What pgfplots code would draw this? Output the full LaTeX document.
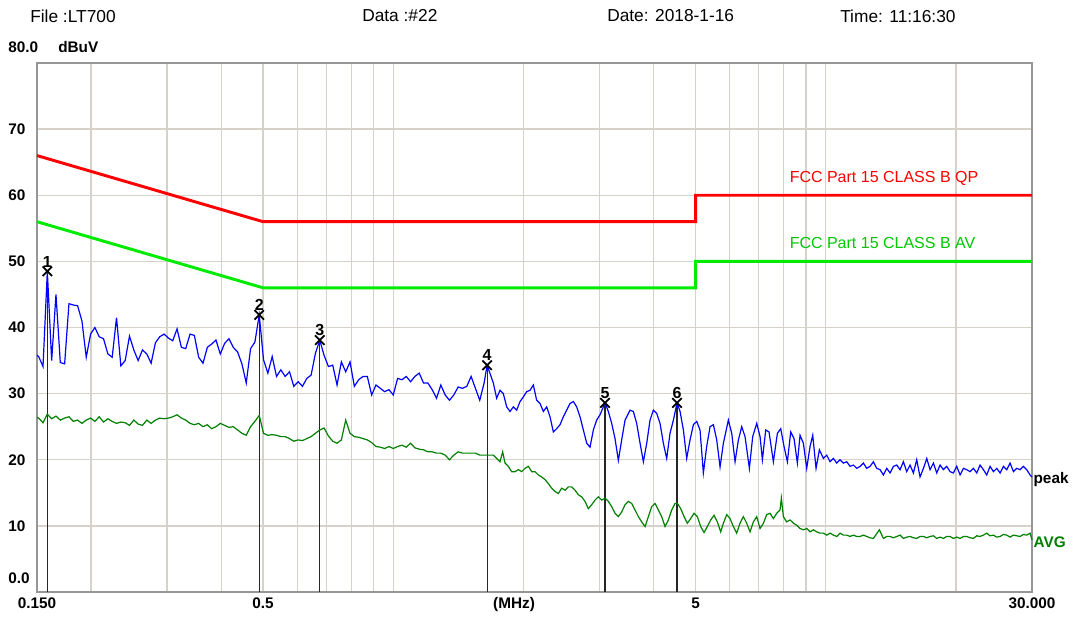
\documentclass[border=0pt]{standalone}
\usepackage{pgfplots}
\usepackage{pgfplotstable}
\pgfplotsset{compat=1.18}
\usepackage{fontspec}
\setmainfont{Liberation Sans}
\definecolor{gridc}{RGB}{214,210,202}
\definecolor{framec}{RGB}{150,150,150}
\definecolor{qpred}{RGB}{255,0,0}
\definecolor{avgreen}{RGB}{0,235,0}
\definecolor{trblue}{RGB}{0,0,255}
\definecolor{trgreen}{RGB}{0,128,0}

% x = log10(frequency / MHz)
\pgfplotstableread{
u dB
-0.8239 35.8
-0.82 35.6
-0.81 34.1
-0.80 48.5
-0.79 35.0
-0.78 45.0
-0.77 34.7
-0.76 34.5
-0.75 43.6
-0.74 43.4
-0.73 43.3
-0.72 41.0
-0.71 35.5
-0.70 39.0
-0.69 40.0
-0.68 38.6
-0.67 38.3
-0.66 36.0
-0.65 35.5
-0.64 41.5
-0.63 34.2
-0.62 35.0
-0.61 38.7
-0.60 36.6
-0.59 35.0
-0.58 36.6
-0.57 36.0
-0.56 34.6
-0.55 37.7
-0.54 38.6
-0.53 39.0
-0.52 38.4
-0.51 38.0
-0.50 39.8
-0.49 37.0
-0.48 36.8
-0.47 39.0
-0.46 38.8
-0.45 35.5
-0.44 34.6
-0.43 37.0
-0.42 37.5
-0.41 38.1
-0.40 36.0
-0.39 37.6
-0.38 38.3
-0.37 37.0
-0.36 36.3
-0.35 34.5
-0.34 31.6
-0.33 36.8
-0.32 37.8
-0.31 41.9
-0.30 35.1
-0.29 33.1
-0.28 35.6
-0.27 32.6
-0.26 33.6
-0.25 32.6
-0.24 33.3
-0.23 31.1
-0.22 31.8
-0.21 31.1
-0.20 32.3
-0.19 32.8
-0.18 36.1
-0.17 38.1
-0.16 35.8
-0.15 34.1
-0.14 34.3
-0.13 31.3
-0.12 34.8
-0.11 33.3
-0.10 34.8
-0.09 31.1
-0.08 32.1
-0.07 32.6
-0.06 32.6
-0.05 29.8
-0.04 31.3
-0.03 30.8
-0.02 30.3
-0.01 30.6
0.00 29.8
0.01 32.3
0.02 32.1
0.03 32.6
0.04 31.8
0.05 32.6
0.06 33.1
0.07 31.6
0.08 31.6
0.09 30.6
0.10 29.3
0.11 31.3
0.12 29.8
0.13 29.0
0.14 29.8
0.15 31.0
0.16 30.8
0.17 31.1
0.18 32.6
0.19 30.8
0.20 29.0
0.21 31.6
0.217 34.3
0.2314 31.6
0.2391 29.3
0.2468 30.5
0.2545 30.0
0.2623 28.0
0.2700 27.3
0.2777 28.0
0.2854 27.5
0.2931 28.8
0.3008 29.5
0.3085 30.3
0.3162 30.5
0.3239 31.3
0.3316 29.0
0.3394 28.5
0.3471 27.3
0.3548 28.0
0.3625 26.5
0.3702 24.2
0.3779 24.7
0.3856 25.3
0.3933 26.5
0.4010 27.5
0.4087 28.5
0.4165 28.8
0.4242 28.0
0.4319 26.5
0.4396 24.5
0.4473 22.5
0.4550 21.9
0.4627 24.5
0.4704 26.0
0.4781 26.8
0.4897 28.6
0.4974 27.3
0.5051 25.5
0.5128 23.2
0.5205 19.9
0.5282 23.0
0.5360 26.0
0.5475 27.5
0.5552 27.3
0.5629 25.5
0.5707 22.5
0.5784 19.7
0.5861 22.5
0.5938 26.0
0.6015 27.5
0.6092 27.0
0.6169 25.5
0.6246 22.5
0.6323 20.2
0.6400 24.0
0.6478 26.0
0.6562 28.6
0.6632 27.3
0.6709 24.5
0.6786 20.2
0.6863 23.0
0.6940 25.3
0.7017 25.8
0.7094 24.5
0.7171 18.0
0.7248 22.0
0.7326 25.0
0.7403 25.3
0.7480 23.0
0.7557 18.9
0.7634 22.5
0.7749 26.0
0.7827 24.0
0.7904 19.7
0.7981 23.0
0.8058 25.0
0.8135 23.5
0.8235 18.7
0.8312 23.5
0.8405 25.5
0.8482 23.5
0.8536 20.0
0.8613 24.5
0.8690 24.2
0.8790 19.7
0.8883 24.0
0.8960 24.7
0.9037 22.0
0.9114 19.7
0.9191 24.2
0.9268 23.2
0.9345 19.5
0.9407 23.7
0.9484 22.5
0.9561 18.7
0.9638 22.0
0.9700 23.7
0.9777 18.7
0.9854 21.5
0.9947 20.2
1.0024 20.7
1.0101 19.7
1.0178 20.2
1.0255 19.5
1.0332 20.0
1.0409 19.5
1.0486 19.7
1.0564 19.0
1.0641 19.2
1.0718 18.7
1.0795 19.0
1.0872 19.5
1.0949 18.7
1.1026 19.0
1.1103 19.7
1.1180 18.7
1.1257 18.5
1.1334 17.7
1.1412 18.7
1.1489 18.0
1.1566 19.0
1.1643 19.2
1.1720 18.5
1.1797 19.7
1.1874 18.2
1.1951 19.2
1.2028 18.0
1.2105 20.0
1.2182 17.4
1.2260 18.7
1.2337 20.2
1.2414 18.5
1.2491 19.5
1.2568 18.0
1.2645 19.2
1.2722 18.5
1.2799 19.0
1.2876 18.2
1.2953 18.0
1.3030 19.0
1.3108 17.7
1.3185 18.7
1.3262 18.5
1.3339 18.2
1.3416 18.7
1.3493 18.0
1.3570 19.2
1.3647 18.5
1.3724 17.7
1.3801 19.0
1.3879 18.2
1.3956 18.7
1.4033 18.0
1.4110 19.0
1.4187 18.5
1.4264 19.5
1.4341 18.2
1.4418 18.7
1.4495 18.5
1.4572 19.0
1.4649 18.5
1.4726 17.7
1.4771 17.4
}\peaktab

\pgfplotstableread{
u dB
-0.8239 26.4
-0.82 26.3
-0.81 25.6
-0.80 26.9
-0.79 26.2
-0.78 26.6
-0.77 26.0
-0.76 26.3
-0.75 26.5
-0.74 25.8
-0.73 26.0
-0.72 25.5
-0.71 26.0
-0.70 26.3
-0.69 25.8
-0.68 26.5
-0.67 25.7
-0.66 26.2
-0.65 25.8
-0.64 25.5
-0.63 25.7
-0.62 25.6
-0.61 25.2
-0.60 26.0
-0.59 25.4
-0.58 25.2
-0.57 26.0
-0.56 25.5
-0.55 26.0
-0.54 26.3
-0.53 26.2
-0.52 26.3
-0.51 26.5
-0.50 26.8
-0.49 26.3
-0.48 26.0
-0.47 25.5
-0.46 25.3
-0.45 25.5
-0.44 25.0
-0.43 25.3
-0.42 24.7
-0.41 25.0
-0.40 25.5
-0.39 25.2
-0.38 24.9
-0.37 25.0
-0.36 24.5
-0.35 24.0
-0.34 23.7
-0.33 25.0
-0.32 25.8
-0.31 26.7
-0.30 24.0
-0.29 23.7
-0.28 23.8
-0.27 23.7
-0.26 23.5
-0.25 23.5
-0.24 23.2
-0.23 22.8
-0.22 23.0
-0.21 22.9
-0.20 23.2
-0.19 23.5
-0.18 24.0
-0.17 24.5
-0.16 24.8
-0.15 23.6
-0.14 22.8
-0.13 22.5
-0.12 23.0
-0.11 26.0
-0.10 24.0
-0.09 23.5
-0.08 23.4
-0.07 23.2
-0.06 23.0
-0.05 22.6
-0.04 22.0
-0.03 21.9
-0.02 21.7
-0.01 22.0
0.00 21.7
0.01 22.0
0.02 22.2
0.03 21.9
0.04 22.5
0.05 21.8
0.06 21.6
0.07 21.5
0.08 21.2
0.09 21.2
0.10 21.0
0.11 21.0
0.12 20.7
0.13 20.0
0.14 20.7
0.15 21.2
0.16 21.0
0.17 21.0
0.18 21.0
0.19 21.0
0.20 20.7
0.21 20.7
0.22 20.7
0.2314 20.7
0.2391 20.2
0.2468 19.7
0.2530 21.2
0.2584 19.5
0.2661 19.0
0.2738 18.2
0.2815 18.2
0.2893 18.5
0.2970 18.2
0.3047 18.7
0.3124 19.0
0.3201 18.2
0.3278 18.2
0.3355 17.7
0.3432 17.4
0.3509 17.0
0.3586 16.4
0.3663 15.7
0.3740 15.2
0.3818 14.9
0.3895 15.7
0.3972 15.4
0.4049 15.9
0.4126 15.9
0.4203 15.4
0.4280 14.7
0.4357 14.4
0.4434 13.7
0.4511 12.6
0.4588 13.2
0.4666 13.9
0.4743 14.4
0.4820 13.9
0.4897 14.2
0.4974 13.7
0.5051 12.9
0.5128 11.9
0.5205 11.4
0.5282 12.1
0.5360 13.2
0.5437 13.7
0.5514 13.4
0.5591 12.4
0.5668 11.4
0.5745 10.6
0.5822 9.9
0.5899 11.4
0.5976 12.9
0.6053 13.4
0.6131 12.4
0.6208 11.4
0.6285 9.9
0.6362 10.9
0.6439 12.4
0.6516 13.4
0.6570 13.4
0.6647 12.6
0.6724 11.4
0.6801 10.4
0.6878 11.1
0.6955 11.9
0.7032 11.4
0.7109 9.9
0.7187 9.0
0.7264 9.9
0.7341 10.9
0.7418 11.6
0.7495 10.6
0.7572 9.1
0.7634 10.4
0.7711 11.7
0.7788 11.1
0.7865 9.9
0.7942 8.9
0.8019 10.4
0.8096 11.4
0.8173 10.4
0.8250 9.1
0.8328 10.6
0.8405 11.4
0.8482 9.6
0.8559 10.4
0.8636 11.7
0.8713 11.9
0.8790 11.1
0.8867 11.9
0.8944 12.4
0.8975 14.2
0.9021 11.4
0.9098 10.6
0.9176 10.9
0.9253 10.4
0.9330 10.1
0.9407 9.6
0.9484 9.4
0.9561 9.6
0.9638 9.1
0.9715 9.4
0.9792 9.1
0.9869 8.9
0.9947 8.9
1.0024 8.6
1.0101 8.9
1.0178 8.6
1.0255 8.4
1.0332 8.9
1.0409 8.6
1.0486 8.6
1.0564 8.4
1.0641 8.6
1.0718 8.4
1.0795 8.4
1.0872 8.6
1.0949 8.4
1.1026 8.2
1.1103 8.1
1.1242 9.4
1.1334 8.1
1.1412 8.4
1.1489 8.4
1.1566 8.2
1.1643 8.4
1.1720 8.6
1.1797 8.1
1.1874 8.3
1.1951 8.4
1.2028 8.2
1.2105 8.1
1.2182 8.4
1.2260 8.4
1.2337 8.2
1.2414 8.4
1.2491 8.5
1.2568 8.1
1.2645 8.3
1.2722 8.1
1.2799 8.4
1.2876 8.4
1.2953 8.1
1.3030 8.3
1.3108 8.1
1.3185 8.4
1.3262 8.4
1.3339 8.2
1.3416 8.1
1.3493 8.5
1.3570 8.4
1.3647 8.6
1.3724 8.9
1.3801 8.5
1.3879 8.6
1.3956 8.3
1.4033 8.4
1.4110 8.7
1.4187 8.6
1.4264 8.3
1.4341 8.6
1.4418 8.5
1.4495 8.4
1.4572 8.7
1.4649 8.6
1.4726 8.9
1.4771 7.9
}\avgtab

\pgfplotstableread{
u dB lab
-0.80 48.5 1
-0.31 41.9 2
-0.17 38.1 3
0.217 34.3 4
0.4897 28.6 5
0.6562 28.6 6
}\marktab

\begin{document}
\begin{tikzpicture}
\path[use as bounding box, fill=white] (-27.75pt,-21.75pt) rectangle (780.75pt,444pt);
\begin{axis}[
  at={(0,0)}, anchor=south west,
  scale only axis, width=746.25pt, height=396.75pt,
  xmin=-0.8239, xmax=1.4771, ymin=0, ymax=80,
  clip=false,
  axis line style={draw=framec, line width=1.6pt},
  xtick={-0.8239,-0.3010,0.6990,1.4771},
  xticklabels={0.150,0.5,5,30.000},
  minor xtick={-0.6990,-0.5229,-0.3979,-0.3010,-0.2218,-0.1549,-0.0969,-0.0458,0,0.3010,0.4771,0.6021,0.6990,0.7782,0.8451,0.9031,0.9542,1,1.3010},
  xminorgrids=true, xmajorgrids=false,
  ytick={0,10,20,30,40,50,60,70,80},
  yticklabels={,10,20,30,40,50,60,70,},
  ymajorgrids=true,
  grid style={draw=gridc, line width=1.0pt},
  minor grid style={draw=gridc, line width=1.0pt},
  major tick length=0pt, minor tick length=0pt,
  tick style={draw=none},
  xticklabel style={font=\fontsize{11.5}{13}\selectfont\bfseries, yshift=-1pt},
  yticklabel style={font=\fontsize{11.5}{13}\selectfont\bfseries, anchor=west, inner xsep=0pt, xshift=-21.75pt},
]
% limit lines
\addplot[qpred, line width=2.2pt] coordinates {(-0.8239,66) (-0.3010,56) (0.6990,56) (0.6990,60) (1.4771,60)};
\addplot[avgreen, line width=2.2pt] coordinates {(-0.8239,56) (-0.3010,46) (0.6990,46) (0.6990,50) (1.4771,50)};
% marker stems
\addplot[ycomb, black!85, line width=0.9pt] table[x=u, y=dB] {\marktab};
% traces
\addplot[trgreen, line width=0.9pt] table[x=u, y=dB] {\avgtab};
\addplot[trblue, line width=0.9pt] table[x=u, y=dB] {\peaktab};
% markers
\addplot[only marks, mark=x, mark size=5pt, black, line width=1.3pt,
  nodes near coords, point meta=explicit symbolic,
  every node near coord/.append style={font=\fontsize{12}{14}\selectfont\bfseries, anchor=south, yshift=1.5pt, inner sep=1pt, black}]
  table[x=u, y=dB, meta=lab] {\marktab};
% texts
\node[anchor=west, text=qpred, font=\fontsize{12}{14}\selectfont] at (axis cs:0.906,62.6) {FCC Part 15 CLASS B QP};
\node[anchor=west, text=avgreen!85!black, font=\fontsize{12}{14}\selectfont] at (axis cs:0.906,52.8) {FCC Part 15 CLASS B AV};
\node[anchor=west, inner xsep=1pt, font=\fontsize{11.5}{13}\selectfont\bfseries] at (axis cs:1.4771,17.0) {peak};
\node[anchor=west, inner xsep=1pt, text=trgreen, font=\fontsize{11.5}{13}\selectfont\bfseries] at (axis cs:1.4771,7.5) {AVG};
\node[anchor=west, inner xsep=0pt, font=\fontsize{11.5}{13}\selectfont\bfseries] at ([xshift=-21.75pt, yshift=10.5pt]rel axis cs:0,0) {0.0};
\node[anchor=west, inner xsep=0pt, font=\fontsize{11.5}{13}\selectfont\bfseries] at ([xshift=-21.75pt, yshift=12pt]rel axis cs:0,1) {80.0};
\node[anchor=west, inner xsep=0pt, font=\fontsize{11.5}{13}\selectfont\bfseries] at ([xshift=15.75pt, yshift=12pt]rel axis cs:0,1) {dBuV};
\node[font=\fontsize{11.5}{13}\selectfont\bfseries] at ([yshift=-9.75pt]axis cs:0.2792,0) {(MHz)};
\end{axis}
\node[anchor=west, inner sep=0pt, font=\fontsize{13}{15}\selectfont] at (-5.25pt,432pt) {File :LT700};
\node[anchor=west, inner sep=0pt, font=\fontsize{13}{15}\selectfont] at (243.75pt,432pt) {Data :\#22};
\node[anchor=west, inner sep=0pt, font=\fontsize{13}{15}\selectfont] at (427.5pt,432pt) {Date: 2018-1-16};
\node[anchor=west, inner sep=0pt, font=\fontsize{13}{15}\selectfont] at (602.25pt,432pt) {Time: 11:16:30};
\end{tikzpicture}
\end{document}
